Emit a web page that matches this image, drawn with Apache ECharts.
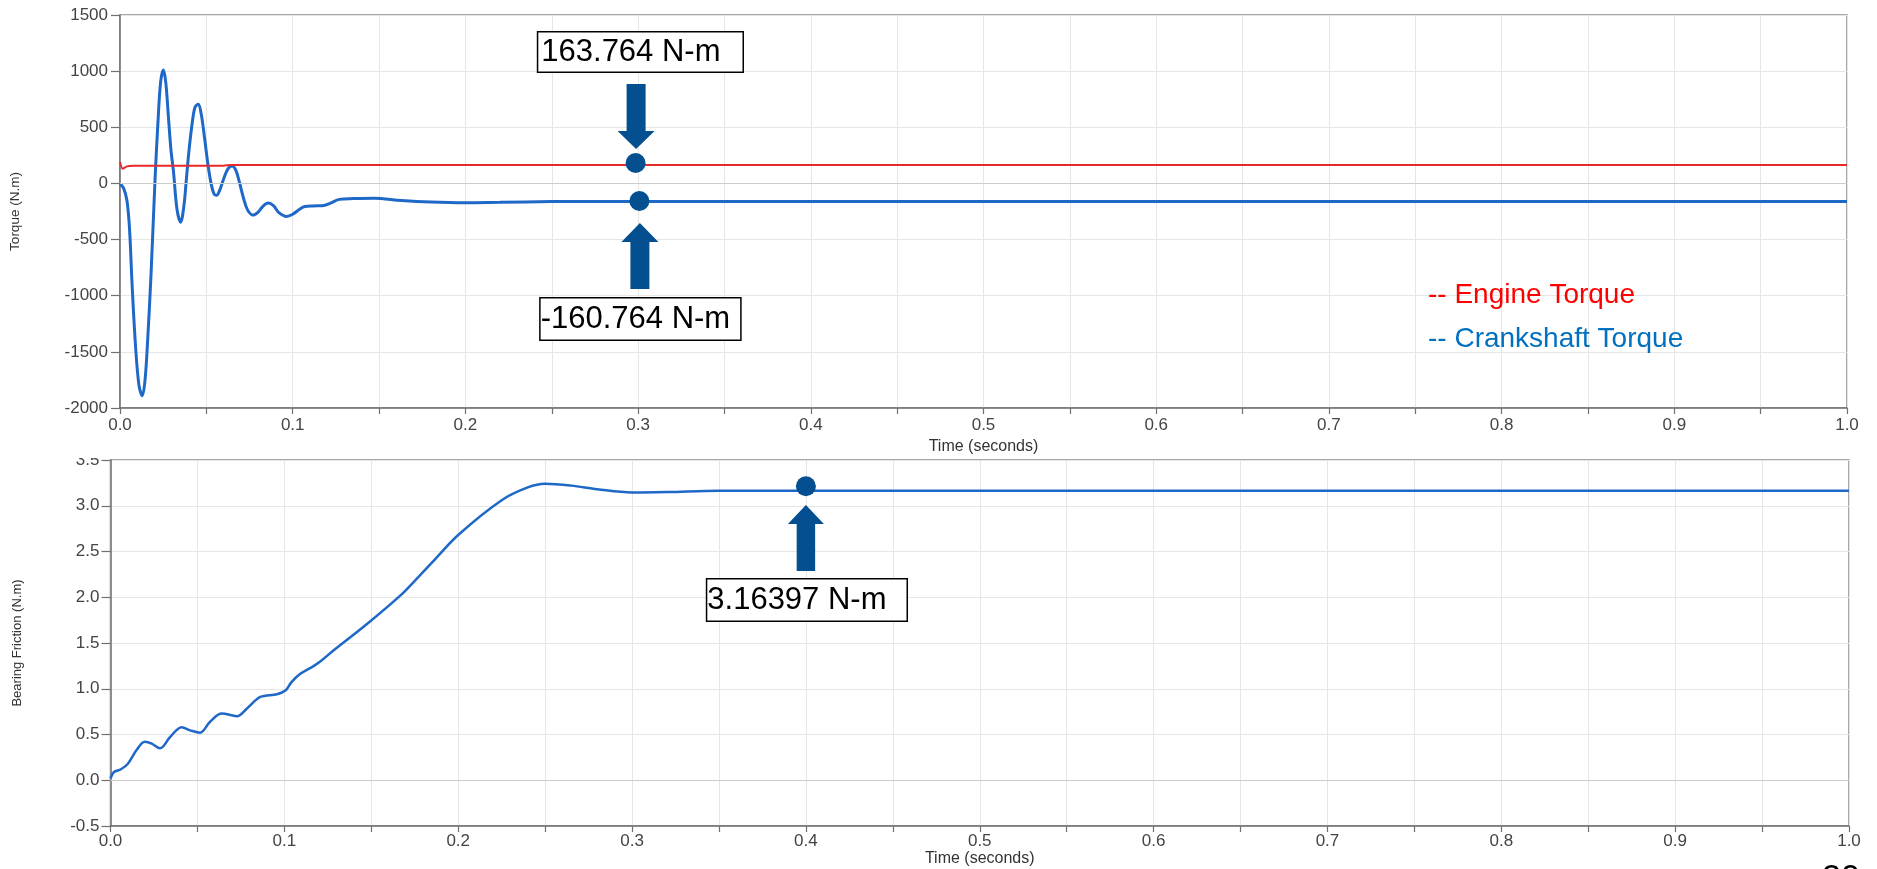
<!DOCTYPE html>
<html>
<head>
<meta charset="utf-8">
<script src="https://cdn.jsdelivr.net/npm/echarts@6/dist/echarts.min.js"></script>
<style>
  html, body { margin: 0; padding: 0; background: #ffffff; }
  #chart { width: 1877px; height: 869px; }
</style>
</head>
<body>
<div id="chart"></div>
<script>
// ---- data: [time (s), value] ----
const engineTorque = [
  [0, 190], [0.0015, 130], [0.004, 152], [0.008, 158], [0.06, 158], [0.064, 163.764],
  [0.3, 163.764], [0.6, 163.764], [1.0, 163.764]
];

const crankshaftTorque = [
  [0, -5], [0.002, -40], [0.004, -150], [0.0055, -400], [0.007, -900], [0.009, -1450],
  [0.011, -1800], [0.0129, -1890], [0.0145, -1750], [0.016, -1400], [0.018, -800],
  [0.0203, 40], [0.022, 550], [0.0235, 900], [0.0251, 1010], [0.0265, 900], [0.028, 600],
  [0.0295, 300], [0.031, 100], [0.033, -230], [0.0351, -345], [0.037, -200], [0.0385, 50],
  [0.040, 300], [0.042, 560], [0.0435, 680], [0.0453, 705], [0.047, 620], [0.049, 400],
  [0.051, 160], [0.053, -20], [0.0545, -95], [0.0559, -105], [0.058, -50], [0.060, 40],
  [0.0625, 130], [0.065, 156], [0.067, 120], [0.069, 20], [0.0715, -130], [0.074, -240],
  [0.0771, -282], [0.080, -255], [0.083, -200], [0.0858, -175], [0.089, -200], [0.092, -260],
  [0.0964, -294], [0.100, -275], [0.104, -230], [0.107, -205], [0.112, -200], [0.117, -198],
  [0.122, -175], [0.127, -142], [0.135, -135], [0.147, -131], [0.163, -152], [0.18, -166],
  [0.20, -172], [0.22, -168], [0.25, -162], [0.30, -160.764], [0.6, -160.764], [1.0, -160.764]
];

const bearingFriction = [
  [0, 0.02], [0.002, 0.09], [0.006, 0.12], [0.010, 0.18], [0.015, 0.33], [0.0198, 0.42],
  [0.0237, 0.40], [0.0285, 0.35], [0.0342, 0.47], [0.041, 0.58], [0.0458, 0.545],
  [0.0515, 0.52], [0.0573, 0.64], [0.064, 0.73], [0.0727, 0.70], [0.0785, 0.785],
  [0.0862, 0.91], [0.0958, 0.94], [0.1006, 0.98], [0.104, 1.07], [0.109, 1.16], [0.117, 1.25],
  [0.1208, 1.30], [0.1284, 1.42], [0.1477, 1.71], [0.1668, 2.02], [0.175, 2.18], [0.185, 2.38],
  [0.2, 2.68], [0.225, 3.06], [0.24, 3.2], [0.25, 3.24], [0.265, 3.22], [0.28, 3.18],
  [0.3, 3.145], [0.32, 3.15], [0.35, 3.165], [0.4, 3.16397], [0.6, 3.16397], [0.8, 3.16397],
  [1.0, 3.16397]
];

// steady-state values called out on the plots
const engineSteady = 163.764;
const crankSteady = -160.764;
const bearingSteady = 3.16397;

// axis ranges: [min, max, interval]
const timeRange = [0, 1, 0.1];
const torqueRange = [-2000, 1500, 500];
const frictionRange = [-0.5, 3.5, 0.5];

// ---- styling ----
const FONT = '"Liberation Sans", Arial, Helvetica, sans-serif';
const AXIS = '#707070';
const GRIDLINE = '#e6e6e6';
const CALLOUT = '#044f8f';
const ARROW_DOWN = 'path://M9,0L28,0L28,47L37,47L18.5,65L0,47L9,47Z';
const ARROW_UP = 'path://M18.5,0L37,19L28,19L28,66L9,66L9,19L0,19Z';

// dot + arrow + boxed value text anchored at a data point
function callout(t, v, text, o) {
  return [
    {
      coord: [t, v], symbol: 'circle', symbolSize: 20, symbolOffset: o.dot,
      itemStyle: { color: CALLOUT }
    },
    {
      coord: [t, v], symbol: o.arrow, symbolSize: o.arrowSize, symbolKeepAspect: false,
      symbolOffset: o.arrowAt, itemStyle: { color: CALLOUT }
    },
    {
      coord: [t, v], symbol: 'circle', symbolSize: 1, symbolOffset: [0, 0],
      itemStyle: { color: 'rgba(0,0,0,0)' },
      label: {
        show: true, position: 'inside', offset: o.boxAt,
        formatter: text, color: '#000000', fontSize: 31, fontFamily: FONT, lineHeight: 33,
        backgroundColor: '#ffffff', borderColor: '#000000', borderWidth: 1.5,
        padding: o.pad
      }
    }
  ];
}

function timeAxis(gridIndex, labelMargin, nameGap) {
  return {
    type: 'value', gridIndex,
    min: timeRange[0], max: timeRange[1], interval: timeRange[2],
    name: 'Time (seconds)', nameLocation: 'middle', nameGap,
    nameTextStyle: { fontSize: 16, color: '#333333', fontFamily: FONT },
    axisLine: { onZero: false, lineStyle: { color: AXIS, width: 1.5 } },
    axisTick: { length: 6, lineStyle: { color: AXIS, width: 1.2 } },
    minorTick: { show: true, splitNumber: 2, length: 6, lineStyle: { color: AXIS, width: 1.2 } },
    splitLine: { show: true, lineStyle: { color: GRIDLINE, width: 1 } },
    minorSplitLine: { show: true, lineStyle: { color: GRIDLINE, width: 1 } },
    axisLabel: {
      formatter: (v) => v.toFixed(1), fontSize: 17, color: '#444444',
      fontFamily: FONT, margin: labelMargin
    }
  };
}

function valueAxis(gridIndex, range, name, nameGap, nameSize, digits, labelMargin) {
  return {
    type: 'value', gridIndex,
    min: range[0], max: range[1], interval: range[2],
    name, nameLocation: 'middle', nameGap,
    nameTextStyle: { fontSize: nameSize, color: '#333333', fontFamily: FONT },
    axisLine: { show: true, onZero: false, lineStyle: { color: AXIS, width: 1.5 } },
    axisTick: { show: true, length: 9, lineStyle: { color: AXIS, width: 1.2 } },
    splitLine: { show: true, lineStyle: { color: GRIDLINE, width: 1 } },
    axisLabel: {
      formatter: (v) => v.toFixed(digits), fontSize: 17, color: '#444444',
      fontFamily: FONT, margin: labelMargin
    }
  };
}

const zeroLine = {
  silent: true, symbol: 'none', label: { show: false },
  lineStyle: { color: '#cccccc', width: 1, type: 'solid' },
  data: [{ yAxis: 0 }]
};

const chart = echarts.init(document.getElementById('chart'), null, { renderer: 'canvas' });

chart.setOption({
  backgroundColor: '#ffffff',
  animation: false,
  textStyle: { fontFamily: FONT },
  grid: [
    { left: 118, right: 30, top: 15, height: 393, show: true, borderColor: '#8a8a8a', borderWidth: 1.5, backgroundColor: 'transparent' },
    { left: 110.5, right: 28, top: 460, height: 366, show: true, borderColor: '#8a8a8a', borderWidth: 1.5, backgroundColor: 'transparent' }
  ],
  xAxis: [
    timeAxis(0, 9, 31),
    timeAxis(1, 7, 25)
  ],
  yAxis: [
    valueAxis(0, torqueRange, 'Torque (N.m)', 98, 13.5, 0, 12),
    valueAxis(1, frictionRange, 'Bearing Friction (N.m)', 87, 13, 1, 11)
  ],
  legend: {
    data: [
      { name: 'Engine Torque', textStyle: { color: '#ff0000' } },
      { name: 'Crankshaft Torque', textStyle: { color: '#0070c0' } }
    ],
    orient: 'vertical', left: 1418, top: 276,
    icon: 'none', itemWidth: 0, itemHeight: 28, itemGap: 16,
    selectedMode: false,
    formatter: (n) => '-- ' + n,
    textStyle: { fontSize: 28, fontFamily: FONT }
  },
  series: [
    {
      name: 'Engine Torque', type: 'line', xAxisIndex: 0, yAxisIndex: 0,
      data: engineTorque, showSymbol: false, smooth: 0.2,
      lineStyle: { color: '#e8282a', width: 2 }, itemStyle: { color: '#e8282a' },
      z: 3,
      markPoint: {
        silent: true, label: { show: false },
        data: callout(0.3, engineSteady, '163.764 N-m', {
          dot: [-2.5, -2], arrow: ARROW_DOWN, arrowSize: [37, 65], arrowAt: [-2, -48.5],
          boxAt: [2.3, -113], pad: [3, 22, 3, 3]
        })
      }
    },
    {
      name: 'Crankshaft Torque', type: 'line', xAxisIndex: 0, yAxisIndex: 0,
      data: crankshaftTorque, showSymbol: false, smooth: 0.35,
      lineStyle: { color: '#1e68c8', width: 3 }, itemStyle: { color: '#1e68c8' },
      z: 2,
      markLine: zeroLine,
      markPoint: {
        silent: true, label: { show: false },
        data: callout(0.3, crankSteady, '-160.764 N-m', {
          dot: [1.3, -0.5], arrow: ARROW_UP, arrowSize: [37, 66], arrowAt: [1.8, 54.5],
          boxAt: [2.3, 117.5], pad: [4, 10, 4, 0]
        })
      }
    },
    {
      name: 'Bearing Friction', type: 'line', xAxisIndex: 1, yAxisIndex: 1,
      data: bearingFriction, showSymbol: false, smooth: 0.35,
      lineStyle: { color: '#1e68c8', width: 2.5 }, itemStyle: { color: '#1e68c8' },
      markLine: zeroLine,
      markPoint: {
        silent: true, label: { show: false },
        data: callout(0.4, bearingSteady, '3.16397 N-m', {
          dot: [0, -4.5], arrow: ARROW_UP, arrowSize: [36, 66], arrowAt: [0, 47.3],
          boxAt: [1, 109.3], pad: [4, 20, 4, 0]
        })
      }
    }
  ],
  graphic: [
    // the lower panel's top edge sits tight under the upper panel and crops its top tick label
    { type: 'rect', z: 100, shape: { x: 55, y: 438, width: 52, height: 20 }, style: { fill: '#ffffff' } },
    // slide page number
    { type: 'text', z: 100, left: 1822, top: 862, style: { text: '20', fontSize: 34, fill: '#000000', font: '34px ' + FONT } }
  ]
});
</script>
</body>
</html>
